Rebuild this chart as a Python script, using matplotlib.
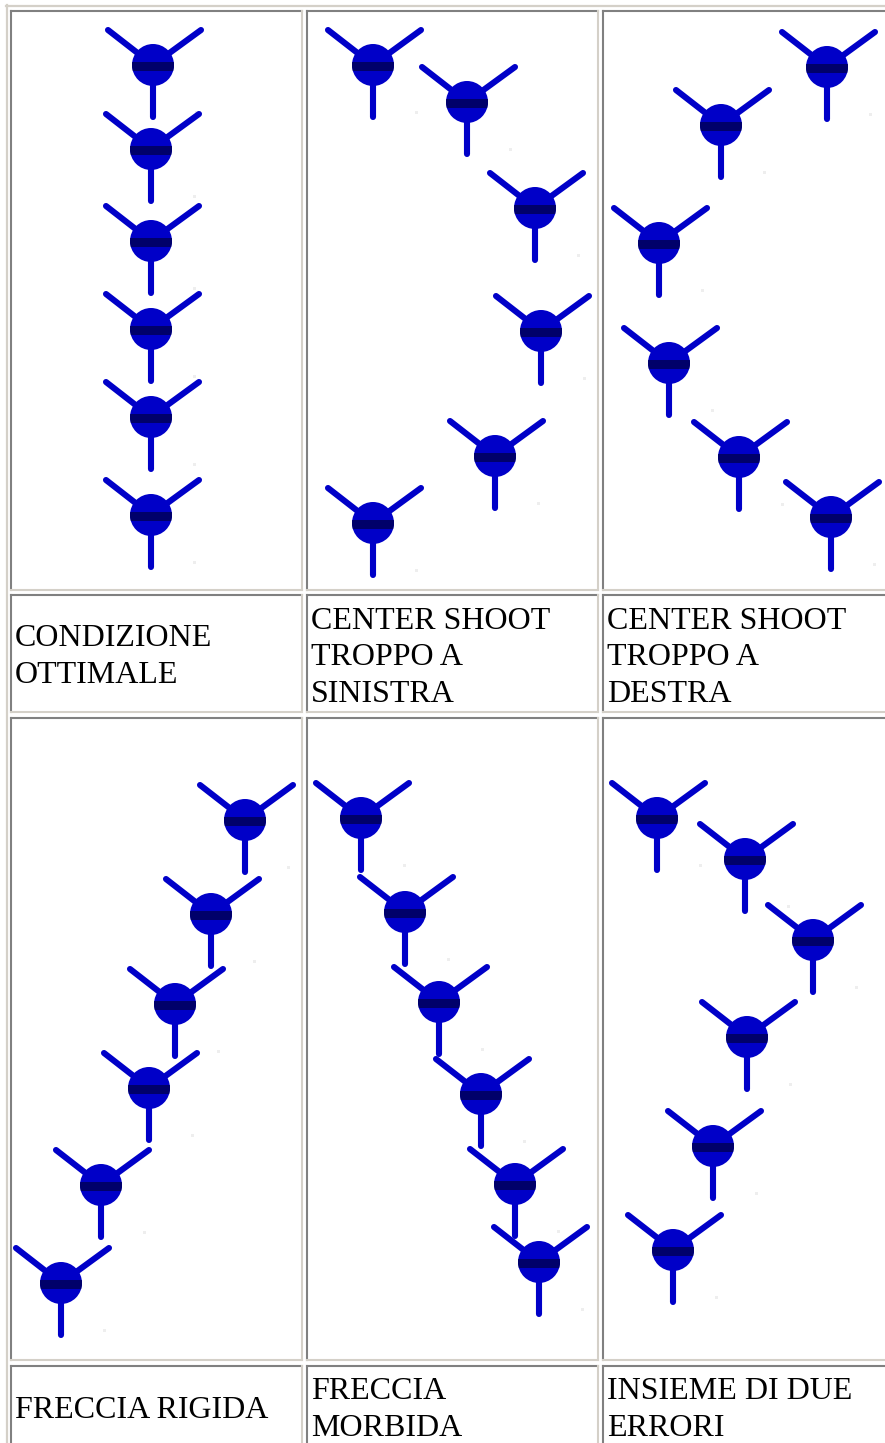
import matplotlib.pyplot as plt
from matplotlib.patches import Circle, Rectangle

# arrow hit positions per cell (pixels)
opt_x = [153, 151, 151, 151, 151, 151]
opt_y = [65, 149, 241, 329, 417, 515]
left_x = [373, 467, 535, 541, 495, 373]
left_y = [65, 102, 208, 331, 456, 523]
right_x = [827, 721, 659, 669, 739, 831]
right_y = [67, 125, 243, 363, 457, 517]
stiff_x = [245, 211, 175, 149, 101, 61]
stiff_y = [820, 914, 1004, 1088, 1185, 1283]
soft_x = [361, 405, 439, 481, 515, 539]
soft_y = [818, 912, 1002, 1094, 1184, 1262]
both_x = [657, 745, 813, 747, 713, 673]
both_y = [818, 859, 940, 1037, 1146, 1250]

# label cells
label_text = ["CONDIZIONE", "OTTIMALE",
              "CENTER SHOOT", "TROPPO A", "SINISTRA",
              "CENTER SHOOT", "TROPPO A", "DESTRA",
              "FRECCIA RIGIDA",
              "FRECCIA", "MORBIDA",
              "INSIEME DI DUE", "ERRORI"]
label_x = [15, 15, 311, 311, 311, 607, 607, 607, 15, 311, 311, 607, 607]
label_y = [646, 683, 629, 665, 702, 629, 665, 702, 1418, 1399, 1436, 1399, 1436]

# table cell edges
col_left = [11, 307, 603]
col_right = [302, 598, 898]
row_top = [11, 595, 718, 1366]
row_bottom = [590, 712, 1360, 1460]

blue = "#0000c8"
dark = "#00006a"
grey = "#808080"
light = "#d4d0c8"


def draw_arrow(ax, x, y):
    lw = 4.4
    ax.plot([x, x - 45], [y, y - 35], color=blue, lw=lw, solid_capstyle="round")
    ax.plot([x, x + 48], [y, y - 35], color=blue, lw=lw, solid_capstyle="round")
    ax.plot([x, x], [y, y + 52], color=blue, lw=lw, solid_capstyle="round")
    nock = Circle((x, y), 21, color=blue, lw=0, zorder=3)
    ax.add_patch(nock)
    band = Rectangle((x - 21, y - 3.5), 42, 9, color=dark, lw=0, zorder=4)
    ax.add_patch(band)
    band.set_clip_path(nock)
    ax.add_patch(Rectangle((x + 42, y + 46), 3, 3, color="#eeeeee", lw=0))


fig = plt.figure(figsize=(8.85, 14.43), dpi=100)
ax = fig.add_axes([0, 0, 1, 1])
ax.set_xlim(0, 885)
ax.set_ylim(1443, 0)
ax.axis("off")

# outer table bevel
ax.plot([6.5, 6.5], [5, 1443], color=light, lw=1.6)
ax.plot([6, 885], [5.5, 5.5], color=light, lw=1.6)

for t, b in zip(row_top, row_bottom):
    for l, r in zip(col_left, col_right):
        ax.plot([l, l], [t, b], color=grey, lw=1.5)
        ax.plot([l, r], [t, t], color=grey, lw=1.5)
        ax.plot([r, r], [t, b], color=light, lw=1.5)
        ax.plot([l, r], [b, b], color=light, lw=1.5)

for xs, ys in [(opt_x, opt_y), (left_x, left_y), (right_x, right_y),
               (stiff_x, stiff_y), (soft_x, soft_y), (both_x, both_y)]:
    for x, y in zip(xs, ys):
        draw_arrow(ax, x, y)

for s, x, y in zip(label_text, label_x, label_y):
    ax.text(x, y, s, family="Liberation Serif", fontsize=23, color="black",
            ha="left", va="baseline")

fig.savefig("out.png", dpi=100)
